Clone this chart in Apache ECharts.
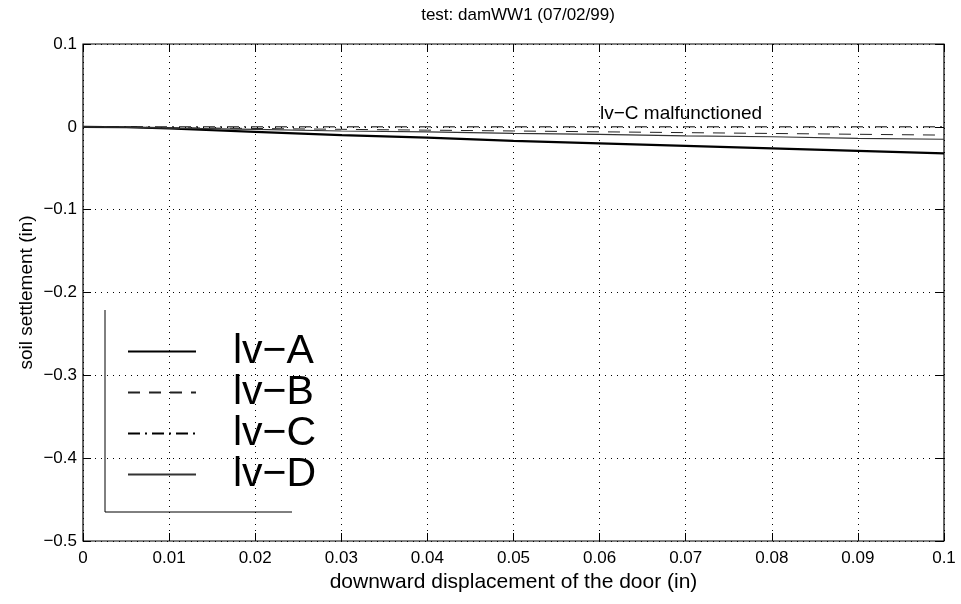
<!DOCTYPE html>
<html>
<head>
<meta charset="utf-8">
<script src="https://cdn.jsdelivr.net/npm/echarts@6/dist/echarts.min.js"></script>
<style>
html,body{margin:0;padding:0;background:#fff;}
#main{width:961px;height:604px;}
</style>
</head>
<body>
<div id="main"></div>
<script>
// data
var xs = [0, 0.005, 0.01, 0.02, 0.03, 0.04, 0.05, 0.06, 0.07, 0.08, 0.09, 0.1];
var lvA = [0, -0.0005, -0.002, -0.006, -0.010, -0.013, -0.017, -0.020, -0.023, -0.026, -0.029, -0.032];
var lvB = [0, 0, -0.001, -0.002, -0.003, -0.004, -0.005, -0.006, -0.007, -0.008, -0.009, -0.010];
var lvC = [0, 0, 0, 0, 0, 0, 0, 0, 0, 0, 0, 0];
var lvD = [0, -0.0003, -0.0015, -0.003, -0.005, -0.006, -0.008, -0.009, -0.011, -0.012, -0.014, -0.015];
var names = ['lv\u2212A', 'lv\u2212B', 'lv\u2212C', 'lv\u2212D'];
var xTicks = ['0', '0.01', '0.02', '0.03', '0.04', '0.05', '0.06', '0.07', '0.08', '0.09', '0.1'];

function pairs(ys){
    var out = [];
    for (var i = 0; i < xs.length; i++) out.push([xs[i], ys[i]]);
    return out;
}

var font = 'Liberation Sans, Arial, Helvetica, sans-serif';
var tick = {show: true, inside: true, length: 8, lineStyle: {color: '#000'}};
var dots = {show: true, lineStyle: {color: '#000', type: [1, 5], width: 1}};
var myChart = echarts.init(document.getElementById('main'));
var option = {
    backgroundColor: '#fff',
    animation: false,
    title: {
        text: 'test: damWW1 (07/02/99)',
        left: 513, top: 2, textAlign: 'center',
        textStyle: {fontFamily: font, fontSize: 17, fontWeight: 'normal', color: '#000'}
    },
    grid: {left: 83, top: 44, width: 861, height: 497, show: true, borderColor: '#000', borderWidth: 1.2},
    legend: {
        orient: 'vertical',
        left: 122, top: 326,
        itemWidth: 68, itemHeight: 14, itemGap: 0,
        itemStyle: {opacity: 0},
        textStyle: {fontFamily: font, fontSize: 41, lineHeight: 41, color: '#000', padding: [0, 0, 0, 32]},
        data: names
    },
    xAxis: [{
        type: 'value', min: 0, max: 0.1, interval: 0.01,
        name: 'downward displacement of the door (in)',
        nameLocation: 'middle', nameGap: 27,
        nameTextStyle: {fontFamily: font, fontSize: 21, color: '#000'},
        axisLine: {show: false, onZero: false},
        axisTick: tick,
        axisLabel: {fontFamily: font, fontSize: 17, color: '#000', margin: 9,
            formatter: function(v){ return xTicks[Math.round(v * 100)]; }},
        splitLine: dots
    }, {
        type: 'value', position: 'top', min: 0, max: 0.1, interval: 0.01,
        axisLine: {show: false, onZero: false}, axisTick: tick,
        axisLabel: {show: false}, splitLine: {show: false}
    }],
    yAxis: [{
        type: 'value', min: -0.5, max: 0.1, interval: 0.1,
        name: 'soil settlement (in)',
        nameLocation: 'middle', nameGap: 47, nameRotate: 90, nameMoveOverlap: false,
        nameTextStyle: {fontFamily: font, fontSize: 19, color: '#000'},
        axisLine: {show: false, onZero: false},
        axisTick: tick,
        axisLabel: {fontFamily: font, fontSize: 17, color: '#000', margin: 6,
            formatter: function(v){ return (Math.round(v * 10) / 10).toString().replace('-', '\u2212'); }},
        splitLine: dots
    }, {
        type: 'value', position: 'right', min: -0.5, max: 0.1, interval: 0.1,
        axisLine: {show: false, onZero: false}, axisTick: tick,
        axisLabel: {show: false}, splitLine: {show: false}
    }],
    graphic: [
        {type: 'line', shape: {x1: 105, y1: 310, x2: 105, y2: 512}, style: {stroke: '#000', lineWidth: 1}},
        {type: 'line', shape: {x1: 105, y1: 512, x2: 292, y2: 512}, style: {stroke: '#000', lineWidth: 1}},
        {type: 'text', left: 600, top: 104,
            style: {text: 'lv\u2212C malfunctioned', fontFamily: font, fontSize: 19, fill: '#000'}}
    ],
    series: [
        {name: names[0], type: 'line', data: pairs(lvA), symbol: 'none',
            lineStyle: {color: '#000', width: 2.2}, itemStyle: {color: '#000'}},
        {name: names[1], type: 'line', data: pairs(lvB), symbol: 'none',
            lineStyle: {color: '#222', width: 1, type: [12, 9]}, itemStyle: {color: '#222'}},
        {name: names[2], type: 'line', data: pairs(lvC), symbol: 'none',
            lineStyle: {color: '#000', width: 1, type: [12, 5, 2, 5]}, itemStyle: {color: '#000'}},
        {name: names[3], type: 'line', data: pairs(lvD), symbol: 'none',
            lineStyle: {color: '#333', width: 1.2}, itemStyle: {color: '#333'}}
    ]
};
myChart.setOption(option);
</script>
</body>
</html>
